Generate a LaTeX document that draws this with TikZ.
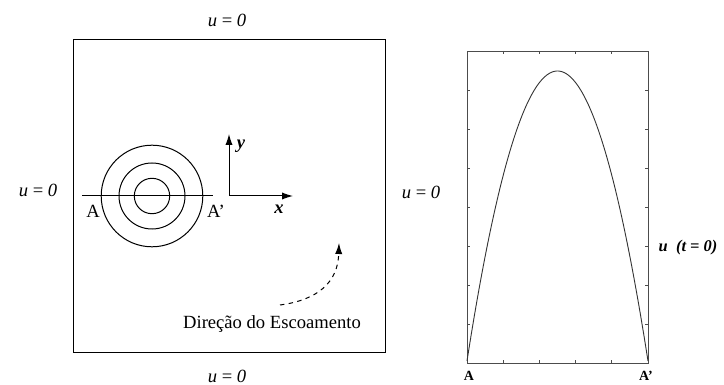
\documentclass[tikz,border=0pt]{standalone}
\usepackage{fontspec}
\setmainfont{Liberation Serif}
\usetikzlibrary{arrows.meta}

\begin{document}
\begin{tikzpicture}[x=0.5pt, y=-0.5pt, >={Latex[length=5.5pt,width=3.6pt]}, line width=0.5pt,
    font=\fontsize{9.3}{11}\selectfont]
    \useasboundingbox (0,0) rectangle (724,385);

    % Domain with the vortex (pixel coordinates, y downwards)
    \draw (73,40) rectangle (385,352);
    \node (utop)   at (227,20)  {\textit{u} = \textit{0}};
    \node (ubot)   at (227,376) {\textit{u} = \textit{0}};
    \node (uleft)  at (38,190)  {\textit{u} = \textit{0}};
    \node (uright) at (421,192) {\textit{u} = \textit{0}};

    % Circles and cut A--A'
    \coordinate (ctr) at (152,196);
    \draw (ctr) circle[radius=17.7];
    \draw (ctr) circle[radius=33];
    \draw (ctr) circle[radius=50.8];
    \coordinate (cutL) at (82,196);
    \coordinate (cutR) at (213,196);
    \draw (cutL) -- (cutR);
    \node (A)  at (93,211)  {A};
    \node (Ap) at (216,211) {A'};

    % Axes
    \coordinate (o) at (229,196);
    \coordinate (ytip) at (229,134);
    \coordinate (xtip) at (293,196);
    \draw[->] (o) -- (ytip);
    \draw[->] (o) -- (xtip);
    \node (ylab) at (241,146) {\textbf{\textit{y}}};
    \node (xlab) at (279,209) {\textbf{\textit{x}}};

    % Flow direction
    \coordinate (fstart) at (280,305);
    \coordinate (ftip) at (339,243);
    \draw[->, dash pattern=on 2.2pt off 2.2pt] (fstart) .. controls (318,300) and (338,282) .. (ftip);
    \node (flow) at (272,324) {Direção do Escoamento};

    % Initial profile along A--A'
    \draw[gray!60!black, line width=0.4pt] (467,51) rectangle (648,363);
    \foreach \i in {1,...,4} {
        \draw[gray!60!black, line width=0.4pt] ({467+36.2*\i},363) -- ++(0,-3);
        \draw[gray!60!black, line width=0.4pt] ({467+36.2*\i},51) -- ++(0,3);
    }
    \foreach \j in {1,...,7} {
        \draw[gray!60!black, line width=0.4pt] (467,{51+39*\j}) -- ++(3,0);
        \draw[gray!60!black, line width=0.4pt] (648,{51+39*\j}) -- ++(-3,0);
    }
    \draw[gray!40!black, line width=0.45pt] plot[domain=467:648, samples=90, smooth]
        (\x, {361 - 290*(1 - ((\x-557.5)/90.5)^2)});
    \node[font=\fontsize{7}{8}\selectfont\bfseries] (pA)  at (469,376) {A};
    \node[font=\fontsize{7}{8}\selectfont\bfseries] (pAp) at (646,376) {A'};
    \node[font=\fontsize{8.2}{10}\selectfont\bfseries\itshape] (ut) at (688,248) {u\enspace(t = 0)};
\end{tikzpicture}
\end{document}
